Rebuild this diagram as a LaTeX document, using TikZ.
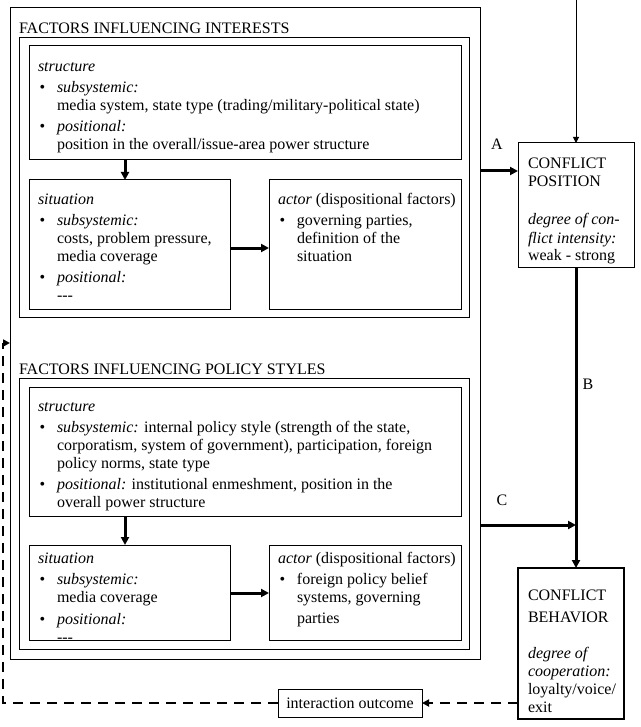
\documentclass[tikz,border=0pt]{standalone}
\usepackage{fontspec}
\setmainfont{Liberation Serif}
\usetikzlibrary{arrows.meta}
\newcommand{\bl}{\makebox[19pt][l]{\hspace{1.5pt}\textbullet}}
\newcommand{\ind}{\makebox[19pt]{}}
\newcommand{\tb}[1]{\begin{tabular}[t]{@{}l@{}}#1\end{tabular}}
\newcommand{\ddd}{-{}-{}-}
\tikzset{
  frame/.style={draw, line width=1pt, inner sep=0pt, outer sep=0pt, anchor=north west},
  txt/.style={inner sep=0pt, outer sep=0pt, anchor=base west, font=\fontsize{16}{18}\selectfont},
  ctxt/.style={inner sep=0pt, outer sep=0pt, font=\fontsize{16}{18}\selectfont},
  thickarrow/.style={line width=3pt, -{Triangle[length=8pt,width=8pt]}},
  thinarrow/.style={line width=1pt, -{Triangle[length=6pt,width=6pt]}},
  dasharrow/.style={line width=2pt, dash pattern=on 10pt off 7pt, -{Triangle[length=7pt,width=7pt]}},
  dashline/.style={line width=2pt, dash pattern=on 10pt off 7pt}
}
\begin{document}
\begin{tikzpicture}[x=1pt,y=-1pt]
\useasboundingbox[fill=white] (0,0) rectangle (640,727);

% outer frame
\node[frame, minimum width=470pt, minimum height=651pt] (outer) at (10,8) {};

% ---- interests section
\node[txt] (t1) at (19,34) {FACTORS INFLUENCING INTERESTS};
\node[frame, minimum width=450pt, minimum height=279pt] (f1) at (19,38) {};
\node[frame, minimum width=432pt, minimum height=114pt] (s1) at (29,46) {};
\node[txt] (s1t) at (38,71.5) {\tb{\textit{structure}\\[3pt]
\bl\textit{subsystemic:}\\
\ind media system, state type (trading/military-political state)\\[3pt]
\bl\textit{positional:}\\
\ind position in the overall/issue-area power structure}};
\node[frame, minimum width=201pt, minimum height=129pt] (si1) at (29,180) {};
\node[txt] (si1t) at (38,204.5) {\tb{\textit{situation}\\[3pt]
\bl\textit{subsystemic:}\\
\ind costs, problem pressure,\\
\ind media coverage\\[3pt]
\bl\textit{positional:}\\
\ind \ddd}};
\node[frame, minimum width=192pt, minimum height=129pt] (a1) at (269,180) {};
\node[txt] (a1t) at (278,204.5) {\tb{\textit{actor} (dispositional factors)\\[3pt]
\bl governing parties,\\
\ind definition of the\\
\ind situation}};
\draw[thickarrow] (s1.south -| 125,0) -- (si1.north -| 125,0);
\draw[thickarrow] (si1.east |- 0,248) -- (a1.west |- 0,248);

% ---- policy styles section
\node[txt] (t2) at (19,374) {FACTORS INFLUENCING POLICY STYLES};
\node[frame, minimum width=450pt, minimum height=271pt] (f2) at (19,378) {};
\node[frame, minimum width=432pt, minimum height=129pt] (s2) at (29,387) {};
\node[txt] (s2t) at (38,411.5) {\tb{\textit{structure}\\[3pt]
\bl\textit{subsystemic:} internal policy style (strength of the state,\\
\ind corporatism, system of government), participation, foreign\\
\ind policy norms, state type\\[3pt]
\bl\textit{positional:} institutional enmeshment, position in the\\
\ind overall power structure}};
\node[frame, minimum width=201pt, minimum height=95pt] (si2) at (29,545) {};
\node[txt] (si2t) at (38,563) {\tb{\textit{situation}\\[3pt]
\bl\textit{subsystemic:}\\
\ind media coverage\\[4pt]
\bl\textit{positional:}\\
\ind \ddd}};
\node[frame, minimum width=192pt, minimum height=95pt] (a2) at (269,545) {};
\node[txt] (a2t) at (278,563) {\tb{\textit{actor} (dispositional factors)\\[3pt]
\bl foreign policy belief\\
\ind systems, governing\\[3pt]
\ind parties}};
\draw[thickarrow] (s2.south -| 125,0) -- (si2.north -| 125,0);
\draw[thickarrow] (si2.east |- 0,593) -- (a2.west |- 0,593);

% ---- right column
\node[frame, minimum width=116pt, minimum height=124pt] (cp) at (518,143) {};
\node[txt] (cpt) at (528,169) {\tb{CONFLICT\\ POSITION\\[20pt]
\textit{degree of con-}\\
\textit{flict intensity:}\\
weak - strong}};
\node[frame, line width=2pt, minimum width=106pt, minimum height=151pt] (cb) at (518,568) {};
\node[txt] (cbt) at (528,600.5) {\tb{CONFLICT\\[4pt] BEHAVIOR\\[18pt]
\textit{degree of}\\
\textit{cooperation:}\\
loyalty/voice/\\
exit}};

\coordinate (topin) at (576,0);
\draw[thinarrow] (topin) -- (topin |- cp.north);

\coordinate (ain) at (480,171);
\draw[thickarrow] (ain) -- (ain -| cp.west);
\node[ctxt] (la) at (497,144) {A};

\draw[thickarrow] (cp.south -| topin) -- (cb.north -| topin);
\node[ctxt] (lb) at (588,384) {B};

\coordinate (cin) at (480,525);
\draw[thickarrow] (cin) -- (cin -| topin);
\node[ctxt] (lc) at (502,500) {C};

% ---- interaction outcome / feedback
\node[frame, minimum width=144pt, minimum height=28pt] (io) at (278,689) {};
\node[ctxt] (iot) at (io.center) {interaction outcome};
\draw[dasharrow] (cb.west |- io.east) -- (io.east);
\coordinate (fb1) at (3,0);
\draw[dashline] (io.west) -- (io.west -| fb1) -- (fb1 |- 0,343);
\draw[dasharrow] (3,343) -- (outer.west |- 0,343);
\end{tikzpicture}
\end{document}
